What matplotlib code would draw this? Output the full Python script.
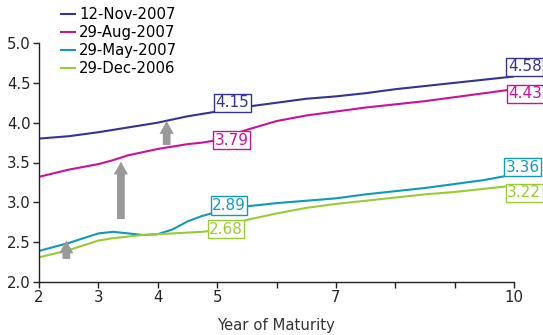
import matplotlib
matplotlib.use("Agg")
import matplotlib.pyplot as plt
from matplotlib.patches import FancyArrow

plt.rcParams['font.family'] = ['DejaVu Sans']

maturity = [2, 2.5, 3, 3.25, 3.5, 3.75, 4, 4.25, 4.5, 4.75, 5, 5.5, 6, 6.5, 7, 7.5, 8, 8.5, 9, 9.5, 10]
nov07 = [3.80, 3.83, 3.88, 3.91, 3.94, 3.97, 4.00, 4.04, 4.08, 4.11, 4.14, 4.20, 4.25, 4.30, 4.33, 4.37, 4.42, 4.46, 4.50, 4.54, 4.58]
aug07 = [3.32, 3.41, 3.48, 3.53, 3.59, 3.63, 3.67, 3.70, 3.73, 3.75, 3.78, 3.91, 4.02, 4.09, 4.14, 4.19, 4.23, 4.27, 4.32, 4.37, 4.42]
may07 = [2.39, 2.49, 2.61, 2.63, 2.61, 2.59, 2.60, 2.66, 2.76, 2.83, 2.88, 2.95, 2.99, 3.02, 3.05, 3.10, 3.14, 3.18, 3.23, 3.28, 3.35]
dec06 = [2.31, 2.40, 2.52, 2.55, 2.57, 2.59, 2.60, 2.61, 2.62, 2.63, 2.65, 2.78, 2.86, 2.93, 2.98, 3.02, 3.06, 3.10, 3.13, 3.17, 3.21]

series_names = ['12-Nov-2007', '29-Aug-2007', '29-May-2007', '29-Dec-2006']
series_values = [nov07, aug07, may07, dec06]
colors = ['#333399', '#CC1199', '#1199BB', '#99CC33']

# labelled values: (series index, text, x, y)
labels = [
    (0, '4.15', 5.26, 4.25), (1, '3.79', 5.24, 3.78),
    (2, '2.89', 5.2, 2.96), (3, '2.68', 5.15, 2.66),
    (0, '4.58', 10.18, 4.70), (1, '4.43', 10.19, 4.36),
    (2, '3.36', 10.15, 3.44), (3, '3.22', 10.17, 3.12),
]
# arrows: (x, y_start, y_end)
arrows = [(2.46, 2.29, 2.52), (3.38, 2.79, 3.51), (4.15, 3.72, 4.02)]

xticks = [2, 3, 4, 5, 6, 7, 8, 9, 10]
xticklabels = ['2', '3', '4', '5', '', '7', '', '', '10']
yticks = [2.0, 2.5, 3.0, 3.5, 4.0, 4.5, 5.0]

fig = plt.figure(figsize=(5.43, 3.35), dpi=100)
ax = fig.add_axes([39/543, 53/335, 475/543, 239/335])

handles = []
for name, vals, c in zip(series_names, series_values, colors):
    h, = ax.plot(maturity, vals, color=c, lw=1.5, label=name, solid_capstyle='butt')
    handles.append(h)

for x, y0, y1 in arrows:
    ax.add_patch(FancyArrow(x, y0, 0, y1 - y0, width=0.13, head_width=0.24,
                            head_length=0.16, length_includes_head=True,
                            color='#999999', lw=0, zorder=3))

for i, txt, x, y in labels:
    ax.text(x, y, txt, color=colors[i], fontsize=11, ha='center', va='center',
            clip_on=False, zorder=5,
            bbox=dict(boxstyle='square,pad=0.1', fc='white', ec=colors[i], lw=1))

ax.set_xlim(2, 10)
ax.set_ylim(2.0, 5.0)
ax.set_xticks(xticks)
ax.set_xticklabels(xticklabels)
ax.set_yticks(yticks)
ax.set_yticklabels([f'{v:.1f}' for v in yticks])
ax.tick_params(axis='both', labelsize=10.7, length=4, width=1, colors='#222222', pad=2)
for s in ['top', 'right']:
    ax.spines[s].set_visible(False)
for s in ['left', 'bottom']:
    ax.spines[s].set_color('#222222')
    ax.spines[s].set_linewidth(1)
ax.set_xlabel('Year of Maturity', fontsize=10.7, color='#333333', labelpad=9)

fig.legend(handles=handles, loc='upper left', bbox_to_anchor=(60/543, 1 - 7/335),
           frameon=False, fontsize=10.7, handlelength=1.1, handletextpad=0.2,
           labelspacing=0.2, borderpad=0, borderaxespad=0)

fig.savefig('out.png', dpi=100)
